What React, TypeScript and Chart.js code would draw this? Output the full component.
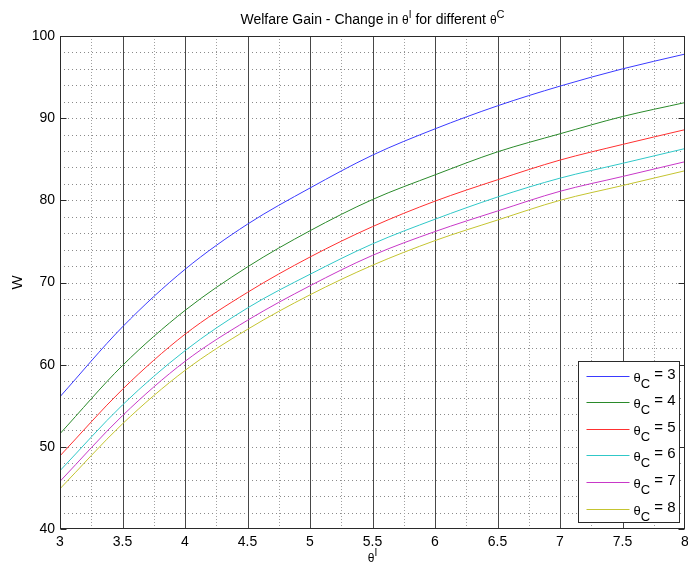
import React, { useEffect, useRef } from "react";
import { Chart, registerables } from "chart.js";

Chart.register(...registerables);

// ---- data ----
const thetaI = [3, 3.5, 4, 4.5, 5, 5.5, 6, 6.5, 7, 7.5, 8];
const wC3 = [56.1, 64.6, 71.6, 77.1, 81.5, 85.5, 88.7, 91.5, 93.9, 96.0, 97.8];
const wC4 = [51.6, 59.9, 66.6, 71.9, 76.3, 80.1, 83.1, 85.9, 88.1, 90.2, 91.9];
const wC5 = [48.9, 57.0, 63.7, 68.8, 73.1, 76.8, 79.9, 82.5, 84.9, 86.8, 88.6];
const wC6 = [47.1, 55.1, 61.7, 66.9, 71.0, 74.7, 77.7, 80.4, 82.7, 84.5, 86.3];
const wC7 = [45.8, 53.8, 60.4, 65.4, 69.6, 73.3, 76.2, 78.7, 81.1, 82.9, 84.7];
const wC8 = [44.9, 52.8, 59.3, 64.3, 68.5, 72.1, 75.1, 77.6, 80.0, 81.8, 83.6];
const thetaCValues = ["3", "4", "5", "6", "7", "8"];
const seriesList = [wC3, wC4, wC5, wC6, wC7, wC8];
const lineColors = ["#3a3aff", "#2a8a2a", "#ff3030", "#30c8c8", "#c838c8", "#c4c430"];

const xMin = 3, xMax = 8, xMajor = 0.5, xMinor = 0.25;
const yMin = 40, yMax = 100, yMajor = 10, yMinor = 2;

const FONT = '"Liberation Sans", Arial, Helvetica, sans-serif';

type Part = { t: string; size: number; dy: number };

function drawRich(ctx: CanvasRenderingContext2D, parts: Part[], x: number, y: number, align: "left" | "center") {
  ctx.save();
  ctx.textBaseline = "middle";
  ctx.textAlign = "left";
  let total = 0;
  for (const p of parts) {
    ctx.font = `${p.size}px ${FONT}`;
    total += ctx.measureText(p.t).width;
  }
  let cx = align === "center" ? x - total / 2 : x;
  for (const p of parts) {
    ctx.font = `${p.size}px ${FONT}`;
    ctx.fillText(p.t, cx, y + p.dy);
    cx += ctx.measureText(p.t).width;
  }
  ctx.restore();
}

const matlabPlugin = {
  id: "matlabStyle",
  beforeDatasetsDraw(chart: any) {
    const { ctx, chartArea } = chart;
    const { left, right, top, bottom } = chartArea;
    const xs = chart.scales.x;
    const ys = chart.scales.y;
    ctx.save();
    ctx.beginPath();
    ctx.rect(left, top, right - left, bottom - top);
    ctx.clip();
    ctx.lineWidth = 1;
    // horizontal dotted grid
    ctx.strokeStyle = "#8a8a8a";
    ctx.setLineDash([1, 3]);
    for (let v = yMin; v <= yMax + 1e-9; v += yMinor) {
      const py = Math.round(ys.getPixelForValue(v)) + 0.5;
      ctx.beginPath();
      ctx.moveTo(left, py);
      ctx.lineTo(right, py);
      ctx.stroke();
    }
    // vertical minor dotted
    ctx.strokeStyle = "#a0a0a0";
    ctx.setLineDash([1, 2]);
    for (let v = xMin + xMinor; v < xMax; v += xMajor) {
      const px = Math.round(xs.getPixelForValue(v)) + 0.5;
      ctx.beginPath();
      ctx.moveTo(px, top);
      ctx.lineTo(px, bottom);
      ctx.stroke();
    }
    // vertical major solid
    ctx.strokeStyle = "#474747";
    ctx.setLineDash([]);
    for (let v = xMin + xMajor; v < xMax - 1e-9; v += xMajor) {
      const px = Math.round(xs.getPixelForValue(v)) + 0.5;
      ctx.beginPath();
      ctx.moveTo(px, top);
      ctx.lineTo(px, bottom);
      ctx.stroke();
    }
    ctx.restore();
  },
  afterDatasetsDraw(chart: any) {
    const { ctx, chartArea } = chart;
    const { left, right, top, bottom } = chartArea;
    const ys = chart.scales.y;
    ctx.save();
    ctx.lineWidth = 1;
    ctx.strokeStyle = "#2a2a2a";
    ctx.setLineDash([]);
    const L = Math.round(left) + 0.5, R = Math.round(right) - 0.5;
    const T = Math.round(top) + 0.5, B = Math.round(bottom) - 0.5;
    ctx.strokeRect(L, T, R - L, B - T);
    // y ticks inward
    for (let v = yMin; v <= yMax + 1e-9; v += yMajor) {
      const py = Math.round(ys.getPixelForValue(v)) + 0.5;
      ctx.beginPath();
      ctx.moveTo(L, py);
      ctx.lineTo(L + 6, py);
      ctx.moveTo(R, py);
      ctx.lineTo(R - 6, py);
      ctx.stroke();
    }
    // legend
    const boxR = Math.round(right) - 5.5;
    const boxB = Math.round(bottom) - 6.5;
    const boxW = 101;
    const boxH = 161;
    const boxL = boxR - boxW;
    const boxT = boxB - boxH;
    ctx.fillStyle = "#ffffff";
    ctx.fillRect(boxL, boxT, boxW, boxH);
    ctx.strokeStyle = "#2a2a2a";
    ctx.strokeRect(boxL, boxT, boxW, boxH);
    ctx.fillStyle = "#000";
    for (let i = 0; i < thetaCValues.length; i++) {
      const cy = Math.round(boxT + 14 + i * 26.6) + 0.5;
      ctx.strokeStyle = lineColors[i];
      ctx.beginPath();
      ctx.moveTo(boxL + 8, cy);
      ctx.lineTo(boxL + 51, cy);
      ctx.stroke();
      drawRich(
        ctx,
        [
          { t: "θ", size: 13, dy: 2 },
          { t: "C", size: 13, dy: 8 },
          { t: " = " + thetaCValues[i], size: 15, dy: -2 },
        ],
        boxL + 55,
        cy,
        "left"
      );
    }
    ctx.restore();
  },
  afterDraw(chart: any) {
    const { ctx, chartArea } = chart;
    const { left, right, top, bottom } = chartArea;
    const cx = (left + right) / 2;
    ctx.save();
    ctx.fillStyle = "#000";
    drawRich(
      ctx,
      [
        { t: "Welfare Gain - Change in ", size: 14, dy: 0 },
        { t: "θ", size: 12, dy: 1 },
        { t: "I", size: 10, dy: -5 },
        { t: " for different ", size: 14, dy: 0 },
        { t: "θ", size: 12, dy: 1 },
        { t: "C", size: 11, dy: -5 },
      ],
      cx,
      top - 16,
      "center"
    );
    drawRich(
      ctx,
      [
        { t: "θ", size: 12, dy: 2 },
        { t: "I", size: 10, dy: -4 },
      ],
      cx,
      bottom + 28,
      "center"
    );
    // y label, rotated
    ctx.translate(18, (top + bottom) / 2);
    ctx.rotate(-Math.PI / 2);
    ctx.font = `15px ${FONT}`;
    ctx.textAlign = "center";
    ctx.textBaseline = "middle";
    ctx.fillText("W", 0, 0);
    ctx.restore();
  },
};

export default function App() {
  const canvasRef = useRef<HTMLCanvasElement | null>(null);

  useEffect(() => {
    const canvas = canvasRef.current;
    if (!canvas) return;
    const chart = new Chart(canvas, {
      type: "line",
      data: {
        datasets: seriesList.map((s, i) => ({
          label: "θC = " + thetaCValues[i],
          data: thetaI.map((x, j) => ({ x, y: s[j] })),
          borderColor: lineColors[i],
          backgroundColor: lineColors[i],
          borderWidth: 1,
          pointRadius: 0,
          fill: false,
          cubicInterpolationMode: "monotone" as const,
        })),
      },
      options: {
        animation: false,
        responsive: false,
        maintainAspectRatio: false,
        layout: { padding: { top: 36, right: 3, left: 0, bottom: 0 } },
        plugins: {
          legend: { display: false },
          title: { display: false },
          tooltip: { enabled: false },
        },
        scales: {
          x: {
            type: "linear",
            min: xMin,
            max: xMax,
            grid: { display: false, drawTicks: false },
            border: { display: false },
            ticks: {
              stepSize: xMajor,
              autoSkip: false,
              maxRotation: 0,
              padding: 5,
              color: "#000",
              font: { family: FONT, size: 14 },
              callback: (v: any) => String(Number(v)),
            },
            afterFit: (s: any) => {
              s.height = 40;
              s.paddingLeft = 0;
              s.paddingRight = 0;
            },
          },
          y: {
            type: "linear",
            min: yMin,
            max: yMax,
            grid: { display: false, drawTicks: false },
            border: { display: false },
            ticks: {
              stepSize: yMajor,
              padding: 5,
              color: "#000",
              font: { family: FONT, size: 14 },
              callback: (v: any) => String(Number(v)),
            },
            afterFit: (s: any) => {
              s.width = 60;
              s.paddingTop = 0;
              s.paddingBottom = 0;
            },
          },
        },
      },
      plugins: [matlabPlugin],
    });
    return () => chart.destroy();
  }, []);

  return (
    <div style={{ position: "absolute", left: 0, top: 0, width: 688, height: 569, background: "#fff" }}>
      <canvas ref={canvasRef} width={688} height={569} style={{ display: "block", width: 688, height: 569 }} />
    </div>
  );
}
